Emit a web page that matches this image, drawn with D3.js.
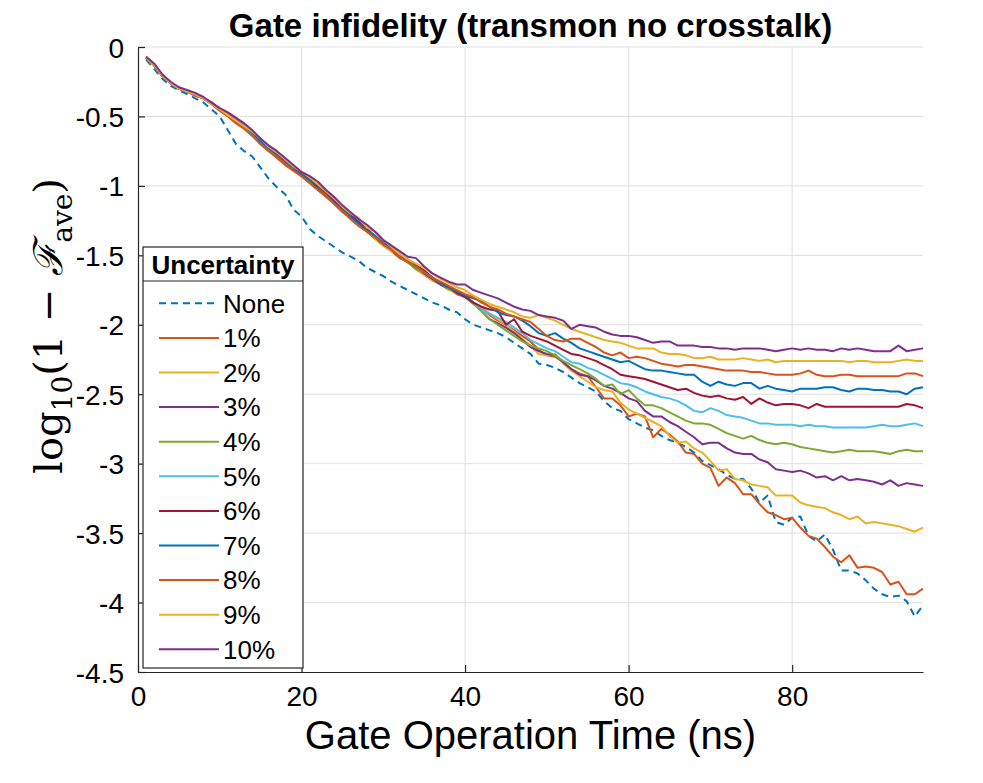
<!DOCTYPE html>
<html>
<head>
<meta charset="utf-8">
<script src="https://cdn.jsdelivr.net/npm/d3@7"></script>
<style>
  body { margin: 0; background: #fff; }
  text { font-family: "Liberation Sans", Arial, Helvetica, sans-serif; fill: #000; }
</style>
</head>
<body>
<svg id="chart" width="983" height="783"></svg>
<script>
// gate time (ns)
const times = [1,2,3,4,5,6,7,8,9,10,11,12,13,14,15,16,17,18,19,20,
  21,22,23,24,25,26,27,28,29,30,31,32,33,34,35,36,37,38,39,40,
  41,42,43,44,45,46,47,48,49,50,51,52,53,54,55,56,57,58,59,60,
  61,62,63,64,65,66,67,68,69,70,71,72,73,74,75,76,77,78,79,80,
  81,82,83,84,85,86,87,88,89,90,91,92,93,94,95,96];

// log10(1 - F_ave) for each uncertainty level
const noneVals = [-0.09,-0.16,-0.23,-0.28,-0.31,-0.34,-0.37,-0.40,-0.45,-0.50,
  -0.60,-0.70,-0.75,-0.79,-0.87,-0.95,-1.01,-1.06,-1.17,-1.22,
  -1.31,-1.36,-1.40,-1.44,-1.48,-1.51,-1.54,-1.59,-1.62,-1.65,
  -1.69,-1.72,-1.75,-1.78,-1.81,-1.84,-1.86,-1.89,-1.91,-1.96,
  -2.00,-2.02,-2.04,-2.06,-2.09,-2.13,-2.17,-2.21,-2.28,-2.29,
  -2.31,-2.34,-2.38,-2.42,-2.45,-2.48,-2.55,-2.60,-2.62,-2.68,
  -2.71,-2.74,-2.76,-2.80,-2.83,-2.85,-2.88,-2.92,-2.98,-3.01,
  -3.04,-3.08,-3.11,-3.11,-3.18,-3.28,-3.23,-3.42,-3.44,-3.39,
  -3.38,-3.52,-3.56,-3.51,-3.62,-3.77,-3.77,-3.79,-3.84,-3.90,
  -3.94,-3.96,-3.95,-3.99,-4.10,-4.02];
const u1 = [-0.08,-0.13,-0.21,-0.26,-0.30,-0.32,-0.35,-0.37,-0.41,-0.45,
  -0.49,-0.54,-0.58,-0.64,-0.70,-0.75,-0.80,-0.85,-0.89,-0.93,
  -0.98,-1.03,-1.08,-1.13,-1.19,-1.23,-1.28,-1.33,-1.38,-1.43,
  -1.47,-1.52,-1.55,-1.60,-1.64,-1.68,-1.71,-1.74,-1.78,-1.80,
  -1.84,-1.88,-1.93,-1.97,-2.00,-2.04,-2.08,-2.12,-2.18,-2.22,
  -2.23,-2.27,-2.32,-2.35,-2.37,-2.45,-2.53,-2.53,-2.58,-2.66,
  -2.64,-2.66,-2.81,-2.75,-2.79,-2.84,-2.92,-2.93,-3.00,-3.03,
  -3.16,-3.10,-3.14,-3.22,-3.22,-3.29,-3.35,-3.37,-3.40,-3.39,
  -3.46,-3.52,-3.54,-3.60,-3.67,-3.71,-3.66,-3.75,-3.74,-3.75,
  -3.78,-3.87,-3.85,-3.94,-3.94,-3.90];
const u2 = [-0.08,-0.14,-0.21,-0.26,-0.30,-0.32,-0.34,-0.37,-0.41,-0.45,
  -0.49,-0.53,-0.58,-0.64,-0.67,-0.72,-0.78,-0.81,-0.87,-0.93,
  -0.97,-1.02,-1.07,-1.10,-1.17,-1.23,-1.28,-1.30,-1.38,-1.43,
  -1.47,-1.50,-1.55,-1.60,-1.64,-1.68,-1.71,-1.75,-1.77,-1.80,
  -1.84,-1.87,-1.92,-1.96,-2.00,-2.05,-2.10,-2.15,-2.21,-2.22,
  -2.21,-2.28,-2.33,-2.37,-2.41,-2.45,-2.47,-2.48,-2.56,-2.61,
  -2.64,-2.67,-2.70,-2.73,-2.80,-2.85,-2.84,-2.89,-2.92,-2.98,
  -3.05,-3.04,-3.11,-3.12,-3.15,-3.16,-3.17,-3.23,-3.23,-3.23,
  -3.28,-3.30,-3.31,-3.32,-3.35,-3.37,-3.40,-3.38,-3.43,-3.42,
  -3.43,-3.44,-3.45,-3.47,-3.49,-3.46];
const u3 = [-0.08,-0.13,-0.20,-0.26,-0.29,-0.32,-0.34,-0.37,-0.40,-0.45,
  -0.49,-0.53,-0.57,-0.62,-0.68,-0.73,-0.78,-0.83,-0.87,-0.92,
  -0.96,-1.01,-1.06,-1.12,-1.17,-1.22,-1.27,-1.31,-1.36,-1.42,
  -1.46,-1.51,-1.54,-1.59,-1.63,-1.67,-1.71,-1.74,-1.76,-1.79,
  -1.84,-1.90,-1.96,-1.99,-2.02,-2.06,-2.11,-2.16,-2.19,-2.21,
  -2.22,-2.27,-2.32,-2.36,-2.37,-2.40,-2.44,-2.46,-2.49,-2.53,
  -2.55,-2.62,-2.66,-2.66,-2.70,-2.73,-2.77,-2.81,-2.86,-2.85,
  -2.85,-2.89,-2.92,-2.93,-2.93,-2.97,-2.99,-3.04,-3.05,-3.06,
  -3.05,-3.07,-3.10,-3.09,-3.12,-3.09,-3.12,-3.11,-3.12,-3.13,
  -3.15,-3.12,-3.16,-3.14,-3.15,-3.16];
const u4 = [-0.07,-0.13,-0.21,-0.26,-0.30,-0.32,-0.34,-0.37,-0.41,-0.45,
  -0.49,-0.53,-0.57,-0.62,-0.68,-0.73,-0.77,-0.82,-0.88,-0.92,
  -0.96,-1.01,-1.06,-1.11,-1.17,-1.22,-1.26,-1.31,-1.37,-1.42,
  -1.46,-1.50,-1.55,-1.60,-1.62,-1.66,-1.70,-1.74,-1.77,-1.80,
  -1.85,-1.90,-1.96,-2.00,-2.04,-2.08,-2.12,-2.15,-2.17,-2.19,
  -2.22,-2.26,-2.29,-2.32,-2.35,-2.39,-2.44,-2.43,-2.50,-2.47,
  -2.53,-2.58,-2.58,-2.60,-2.63,-2.66,-2.69,-2.71,-2.71,-2.72,
  -2.75,-2.78,-2.80,-2.82,-2.80,-2.83,-2.85,-2.86,-2.85,-2.86,
  -2.88,-2.89,-2.90,-2.91,-2.92,-2.91,-2.90,-2.91,-2.91,-2.91,
  -2.92,-2.93,-2.91,-2.90,-2.91,-2.91];
const u5 = [-0.08,-0.13,-0.21,-0.26,-0.30,-0.32,-0.35,-0.37,-0.41,-0.45,
  -0.49,-0.53,-0.58,-0.63,-0.69,-0.74,-0.78,-0.83,-0.88,-0.92,
  -0.97,-1.01,-1.06,-1.11,-1.16,-1.21,-1.26,-1.31,-1.36,-1.41,
  -1.46,-1.50,-1.54,-1.58,-1.62,-1.66,-1.70,-1.73,-1.77,-1.80,
  -1.84,-1.88,-1.92,-1.95,-1.98,-2.02,-2.06,-2.11,-2.14,-2.17,
  -2.19,-2.23,-2.27,-2.28,-2.31,-2.33,-2.36,-2.39,-2.42,-2.43,
  -2.45,-2.48,-2.50,-2.52,-2.53,-2.55,-2.58,-2.62,-2.63,-2.60,
  -2.62,-2.65,-2.66,-2.67,-2.69,-2.71,-2.71,-2.72,-2.72,-2.72,
  -2.73,-2.72,-2.73,-2.73,-2.74,-2.74,-2.74,-2.74,-2.74,-2.73,
  -2.72,-2.73,-2.73,-2.72,-2.71,-2.73];
const u6 = [-0.08,-0.13,-0.21,-0.26,-0.30,-0.32,-0.34,-0.37,-0.40,-0.45,
  -0.48,-0.52,-0.56,-0.61,-0.67,-0.72,-0.77,-0.82,-0.86,-0.91,
  -0.95,-1.00,-1.05,-1.11,-1.16,-1.21,-1.26,-1.31,-1.37,-1.42,
  -1.45,-1.49,-1.53,-1.57,-1.61,-1.66,-1.70,-1.73,-1.77,-1.80,
  -1.84,-1.87,-1.89,-1.90,-2.00,-1.96,-2.05,-2.08,-2.10,-2.12,
  -2.15,-2.18,-2.21,-2.22,-2.24,-2.26,-2.29,-2.32,-2.36,-2.37,
  -2.38,-2.39,-2.41,-2.43,-2.45,-2.47,-2.46,-2.49,-2.51,-2.52,
  -2.51,-2.53,-2.54,-2.52,-2.57,-2.53,-2.56,-2.58,-2.57,-2.57,
  -2.58,-2.60,-2.57,-2.59,-2.59,-2.59,-2.59,-2.59,-2.59,-2.59,
  -2.59,-2.59,-2.59,-2.57,-2.58,-2.60];
const u7 = [-0.08,-0.13,-0.21,-0.26,-0.30,-0.32,-0.34,-0.37,-0.41,-0.45,
  -0.49,-0.53,-0.57,-0.62,-0.68,-0.73,-0.78,-0.83,-0.88,-0.92,
  -0.96,-1.02,-1.07,-1.12,-1.17,-1.22,-1.27,-1.32,-1.36,-1.41,
  -1.45,-1.50,-1.54,-1.58,-1.62,-1.66,-1.70,-1.73,-1.76,-1.79,
  -1.81,-1.83,-1.87,-1.91,-1.93,-1.94,-1.97,-2.01,-2.06,-2.08,
  -2.06,-2.10,-2.13,-2.17,-2.19,-2.21,-2.23,-2.25,-2.27,-2.26,
  -2.29,-2.32,-2.33,-2.33,-2.34,-2.35,-2.36,-2.36,-2.41,-2.44,
  -2.41,-2.43,-2.44,-2.42,-2.42,-2.46,-2.44,-2.46,-2.47,-2.48,
  -2.46,-2.46,-2.46,-2.45,-2.45,-2.47,-2.48,-2.46,-2.46,-2.47,
  -2.47,-2.48,-2.48,-2.50,-2.46,-2.45];
const u8 = [-0.08,-0.13,-0.21,-0.26,-0.30,-0.32,-0.35,-0.37,-0.41,-0.46,
  -0.50,-0.55,-0.59,-0.64,-0.70,-0.75,-0.79,-0.84,-0.89,-0.93,
  -0.98,-1.03,-1.07,-1.13,-1.18,-1.24,-1.29,-1.33,-1.37,-1.42,
  -1.46,-1.51,-1.55,-1.58,-1.62,-1.66,-1.69,-1.72,-1.75,-1.78,
  -1.80,-1.84,-1.87,-1.89,-1.92,-1.94,-1.96,-1.98,-2.03,-2.08,
  -2.11,-2.12,-2.10,-2.10,-2.13,-2.16,-2.20,-2.22,-2.20,-2.24,
  -2.23,-2.24,-2.26,-2.28,-2.29,-2.30,-2.29,-2.29,-2.30,-2.31,
  -2.32,-2.33,-2.33,-2.33,-2.34,-2.34,-2.35,-2.36,-2.36,-2.36,
  -2.35,-2.33,-2.36,-2.37,-2.37,-2.36,-2.36,-2.37,-2.37,-2.37,
  -2.37,-2.37,-2.37,-2.35,-2.35,-2.37];
const u9 = [-0.08,-0.13,-0.21,-0.26,-0.30,-0.32,-0.34,-0.37,-0.41,-0.45,
  -0.49,-0.53,-0.57,-0.61,-0.66,-0.72,-0.76,-0.81,-0.86,-0.90,
  -0.94,-0.99,-1.04,-1.09,-1.15,-1.20,-1.23,-1.30,-1.33,-1.39,
  -1.44,-1.49,-1.53,-1.56,-1.59,-1.63,-1.67,-1.70,-1.73,-1.75,
  -1.79,-1.82,-1.85,-1.87,-1.89,-1.91,-1.94,-1.95,-1.93,-1.95,
  -1.97,-2.00,-2.03,-2.05,-2.07,-2.09,-2.11,-2.12,-2.13,-2.15,
  -2.17,-2.17,-2.17,-2.20,-2.21,-2.21,-2.22,-2.24,-2.24,-2.23,
  -2.25,-2.25,-2.25,-2.24,-2.25,-2.26,-2.25,-2.27,-2.26,-2.26,
  -2.26,-2.26,-2.26,-2.26,-2.26,-2.26,-2.27,-2.26,-2.26,-2.27,
  -2.27,-2.27,-2.26,-2.25,-2.26,-2.26];
const u10 = [-0.07,-0.12,-0.20,-0.25,-0.29,-0.31,-0.33,-0.36,-0.40,-0.44,
  -0.47,-0.51,-0.55,-0.60,-0.66,-0.71,-0.75,-0.80,-0.85,-0.90,
  -0.93,-0.97,-1.03,-1.08,-1.14,-1.19,-1.24,-1.28,-1.33,-1.39,
  -1.43,-1.47,-1.51,-1.52,-1.58,-1.63,-1.66,-1.69,-1.71,-1.71,
  -1.75,-1.77,-1.79,-1.81,-1.84,-1.87,-1.89,-1.90,-1.93,-1.94,
  -1.95,-1.97,-2.03,-2.00,-2.01,-2.02,-2.05,-2.07,-2.08,-2.08,
  -2.09,-2.11,-2.13,-2.12,-2.12,-2.15,-2.15,-2.15,-2.16,-2.16,
  -2.17,-2.17,-2.18,-2.17,-2.17,-2.17,-2.18,-2.19,-2.18,-2.17,
  -2.18,-2.17,-2.18,-2.18,-2.19,-2.17,-2.18,-2.17,-2.18,-2.19,
  -2.19,-2.19,-2.15,-2.19,-2.18,-2.17];

const seriesLabels = ["None", "1%", "2%", "3%", "4%", "5%", "6%", "7%", "8%", "9%", "10%"];
const seriesValues = [noneVals, u1, u2, u3, u4, u5, u6, u7, u8, u9, u10];
const seriesColors = ["#0072BD", "#D95319", "#EDB120", "#7E2F8E", "#77AC30", "#4DBEEE",
  "#A2142F", "#0072BD", "#D95319", "#EDB120", "#7E2F8E"];
const xTicks = [0, 20, 40, 60, 80];
const yTicks = [0, -0.5, -1, -1.5, -2, -2.5, -3, -3.5, -4, -4.5];

const svg = d3.select("#chart");
const plotLeft = 138, plotRight = 923, plotTop = 47, plotBottom = 672;

const x = d3.scaleLinear().domain([0, 96]).range([plotLeft, plotRight]);
const y = d3.scaleLinear().domain([-4.5, 0]).range([plotBottom, plotTop]);

// grid
svg.append("g").selectAll("line")
  .data(xTicks.filter(d => d > 0))
  .join("line")
  .attr("x1", d => x(d)).attr("x2", d => x(d))
  .attr("y1", plotTop).attr("y2", plotBottom)
  .attr("stroke", "#dfdfdf").attr("stroke-width", 1);
svg.append("g").selectAll("line")
  .data(yTicks.filter(d => d > -4.5))
  .join("line")
  .attr("x1", plotLeft).attr("x2", plotRight)
  .attr("y1", d => y(d)).attr("y2", d => y(d))
  .attr("stroke", "#dfdfdf").attr("stroke-width", 1);

// axes
const xAxis = d3.axisBottom(x).tickValues(xTicks).tickSizeInner(-7).tickSizeOuter(0).tickPadding(14)
  .tickFormat(d => String(d));
const gx = svg.append("g").attr("transform", `translate(0,${plotBottom})`).call(xAxis);
const yAxis = d3.axisLeft(y).tickValues(yTicks).tickSizeInner(-7).tickSizeOuter(0).tickPadding(14)
  .tickFormat(d => String(d));
const gy = svg.append("g").attr("transform", `translate(${plotLeft},0)`).call(yAxis);
[gx, gy].forEach(g => {
  g.select(".domain").attr("stroke", "#262626").attr("stroke-width", 1.2);
  g.selectAll(".tick line").attr("stroke", "#262626").attr("stroke-width", 1.2);
  g.selectAll(".tick text")
    .style("font-family", "'Liberation Sans', Arial, sans-serif")
    .style("font-size", "28px").attr("fill", "#262626");
});
gx.selectAll(".tick text").attr("dy", "0.71em");
gy.selectAll(".tick text").attr("dy", "0.36em");

// lines
const line = d3.line()
  .x((d, i) => x(times[i]))
  .y(d => y(d));

svg.append("g").selectAll("path")
  .data(seriesValues)
  .join("path")
  .attr("d", d => line(d))
  .attr("fill", "none")
  .attr("stroke", (d, i) => seriesColors[i])
  .attr("stroke-width", 2)
  .attr("stroke-linejoin", "round")
  .attr("stroke-dasharray", (d, i) => i === 0 ? "7,5" : null);

// title
svg.append("text")
  .attr("x", (plotLeft + plotRight) / 2).attr("y", 37)
  .attr("text-anchor", "middle")
  .style("font-weight", "bold").style("font-size", "33px")
  .text("Gate infidelity (transmon no crosstalk)");

// x label
svg.append("text")
  .attr("x", (plotLeft + plotRight) / 2).attr("y", 749)
  .attr("text-anchor", "middle")
  .style("font-size", "40px").attr("fill", "#262626")
  .text("Gate Operation Time (ns)");

// y label (LaTeX-like)
const yl = svg.append("text")
  .attr("transform", "translate(62,326) rotate(-90)")
  .attr("text-anchor", "middle")
  .style("font-family", "'DejaVu Serif', 'Liberation Serif', serif")
  .style("font-size", "40px");
yl.append("tspan").text("log");
yl.append("tspan").attr("dy", 10).style("font-size", "28px").text("10");
yl.append("tspan").attr("dy", -10).text("(1 \u2212 ");
yl.append("tspan").style("font-style", "italic").text("\u2131");
yl.append("tspan").attr("dy", 10).style("font-size", "28px").text("ave");
yl.append("tspan").attr("dy", -10).text(")");

// legend
const lg = svg.append("g");
const lgLeft = 143, lgRight = 303, lgTop = 247, lgHead = 281, lgBottom = 668;
lg.append("rect")
  .attr("x", lgLeft).attr("y", lgTop)
  .attr("width", lgRight - lgLeft).attr("height", lgBottom - lgTop)
  .attr("fill", "#fff").attr("stroke", "#262626").attr("stroke-width", 1.2);
lg.append("line")
  .attr("x1", lgLeft).attr("x2", lgRight).attr("y1", lgHead).attr("y2", lgHead)
  .attr("stroke", "#262626").attr("stroke-width", 1.2);
lg.append("text")
  .attr("x", (lgLeft + lgRight) / 2).attr("y", 274)
  .attr("text-anchor", "middle")
  .style("font-weight", "bold").style("font-size", "26px")
  .text("Uncertainty");

const rowY = d3.scaleLinear().domain([0, 10]).range([303.3, 649.3]);
const rows = lg.selectAll("g.row")
  .data(seriesLabels)
  .join("g").attr("class", "row")
  .attr("transform", (d, i) => `translate(0,${rowY(i)})`);
rows.append("line")
  .attr("x1", 159).attr("x2", 219).attr("y1", 0).attr("y2", 0)
  .attr("stroke", (d, i) => seriesColors[i])
  .attr("stroke-width", 2)
  .attr("stroke-dasharray", (d, i) => i === 0 ? "7,5" : null);
rows.append("text")
  .attr("x", 223).attr("y", 0).attr("dy", "0.36em")
  .style("font-size", "26px")
  .text(d => d);
</script>
</body>
</html>
